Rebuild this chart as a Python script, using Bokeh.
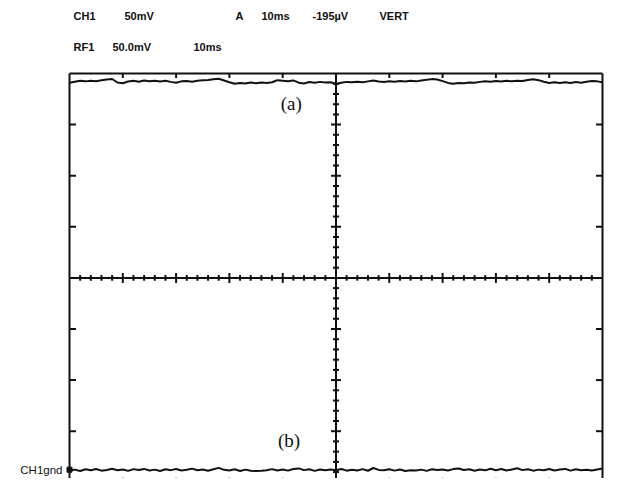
import numpy as np
from bokeh.plotting import figure
from bokeh.models import Range1d
from bokeh.core.properties import value
from bokeh.embed import file_html
from bokeh.resources import INLINE

# ---------------- data (oscilloscope screen, 10 ms/div, 50 mV/div) ----------------
time_ms = list(range(0, 101))  # 0 .. 100 ms, 10 divisions

trace_a_mV = [
    191.0, 192.0, 192.8, 192.3, 193.0, 192.5, 193.4, 194.2, 194.6, 191.2,
    190.4, 192.1, 192.8, 192.0, 193.1, 192.4, 193.0, 192.2, 192.9, 191.8,
    190.9, 192.3, 192.6, 192.0, 192.9, 193.3, 193.6, 194.3, 194.8, 193.2,
    191.5, 189.9, 190.8, 190.2, 191.1, 190.5, 191.2, 190.6, 191.4, 193.5,
    193.0, 192.4, 193.2, 191.0, 190.3, 191.6, 191.0, 191.8, 191.2, 191.5,
    189.8, 190.9, 191.8, 191.4, 192.0, 191.5, 192.3, 193.1, 192.2, 191.7,
    192.4, 191.9, 192.6, 192.1, 192.8, 192.3, 193.2, 193.8, 194.5, 194.2,
    192.5, 190.8, 189.9, 190.6, 190.4, 191.3, 191.0, 191.8, 192.5, 192.0,
    192.7, 192.2, 192.9, 192.4, 193.0, 192.6, 193.6, 194.4, 193.5, 192.0,
    190.8, 191.5, 190.6, 191.4, 190.7, 191.6, 191.0, 192.0, 192.7, 192.3,
    191.4,
]

trace_b_mV = [
    -188.5, -187.6, -188.9, -187.2, -188.3, -187.0, -188.6, -187.9, -186.8, -188.2,
    -187.4, -188.8, -187.1, -188.0, -186.9, -188.4, -187.6, -188.9, -187.3, -188.1,
    -187.0, -188.5, -187.8, -186.6, -188.2, -187.5, -188.7, -187.2, -185.9, -187.8,
    -188.4, -187.3, -188.9, -187.6, -188.6, -188.9, -188.7, -188.3, -187.1, -188.5,
    -187.4, -188.6, -187.0, -186.4, -188.1, -187.2, -188.8, -187.5, -188.3, -187.4,
    -188.2, -187.0, -188.6, -187.7, -188.4, -187.1, -188.7, -186.0, -187.9, -188.3,
    -187.2, -188.6, -187.4, -188.9, -188.2, -188.5, -187.6, -188.8, -187.3, -188.0,
    -187.5, -188.4, -187.1, -186.5, -188.0, -187.3, -188.7, -187.5, -188.3, -186.8,
    -188.2, -187.0, -188.5, -187.4, -186.3, -188.1, -187.2, -188.6, -187.6, -188.3,
    -187.0, -188.4, -187.5, -186.9, -188.6, -187.3, -188.2, -187.8, -188.5, -187.4,
    -186.6,
]

gnd_level_mV = -187.7

header_line1 = ["CH1", "50mV", "A", "10ms", "-195\u00b5V", "VERT"]
header_line2 = ["RF1", "50.0mV", "10ms"]
panel_labels = ["(a)", "(b)"]
panel_label_ms = [41.6, 41.2]
panel_label_mV = [170.3, -159.4]
gnd_label = "CH1gnd"

X_DIVS, Y_DIVS = 10, 8
MS_PER_DIV, MV_PER_DIV = 10, 50

# ---------------- geometry (figure pixels) ----------------
FIG_W, FIG_H = 604, 478
LEFT_PX, RIGHT_PX = 69, 602      # screen frame left / right edges
TOP_PX = 73                      # screen frame top edge
PX_PER_MS = (RIGHT_PX - LEFT_PX) / (X_DIVS * MS_PER_DIV)
PX_PER_MV = 51.1 / MV_PER_DIV

x_end_ms = X_DIVS * MS_PER_DIV
y_top_mV = Y_DIVS / 2 * MV_PER_DIV
x_start = -LEFT_PX / PX_PER_MS
x_stop = x_end_ms + (FIG_W - RIGHT_PX) / PX_PER_MS
y_stop = y_top_mV + TOP_PX / PX_PER_MV
y_start = y_top_mV - (FIG_H - TOP_PX) / PX_PER_MV


def px_x(px):
    return (px - LEFT_PX) / PX_PER_MS


def px_y(py):
    return y_top_mV + (TOP_PX - py) / PX_PER_MV


p = figure(width=FIG_W, height=FIG_H, output_backend="svg", toolbar_location=None,
           x_range=Range1d(x_start, x_stop), y_range=Range1d(y_start, y_stop),
           x_axis_location=None, y_axis_location=None, min_border=0,
           outline_line_color=None, background_fill_color="white",
           border_fill_color="white")
p.grid.visible = False

INK = "#111111"
LW = 2

# frame edges
p.segment(x0=[0, 0, x_end_ms, 0], y0=[y_top_mV, -y_top_mV, -y_top_mV, -y_top_mV],
          x1=[x_end_ms, x_end_ms, x_end_ms, 0], y1=[y_top_mV, -y_top_mV, y_top_mV, y_top_mV],
          line_color=INK, line_width=LW)

# center cross
mid_x = x_end_ms / 2
p.segment(x0=[0, mid_x], y0=[0, -y_top_mV], x1=[x_end_ms, mid_x], y1=[0, y_top_mV],
          line_color=INK, line_width=LW)

# division ticks on edges
major_x = [v for v in np.arange(MS_PER_DIV, x_end_ms, MS_PER_DIV) if v != mid_x]
major_y = [v for v in np.arange(-y_top_mV + MV_PER_DIV, y_top_mV, MV_PER_DIV) if v != 0]
t_edge_x = 4.5 / PX_PER_MV   # vertical tick length (top / bottom edges)
t_edge_y = 6.5 / PX_PER_MS   # horizontal tick length (left / right edges)
p.segment(x0=major_x, y0=[y_top_mV] * len(major_x), x1=major_x,
          y1=[y_top_mV - t_edge_x] * len(major_x), line_color=INK, line_width=LW)
p.segment(x0=major_x, y0=[-y_top_mV] * len(major_x), x1=major_x,
          y1=[-y_top_mV + t_edge_x] * len(major_x), line_color=INK, line_width=LW)
p.segment(x0=[0] * len(major_y), y0=major_y, x1=[t_edge_y] * len(major_y), y1=major_y,
          line_color=INK, line_width=LW)
p.segment(x0=[x_end_ms] * len(major_y), y0=major_y, x1=[x_end_ms - t_edge_y] * len(major_y),
          y1=major_y, line_color=INK, line_width=LW)

# ticks on the center cross (5 minor per division)
minor_step_x = MS_PER_DIV / 5
minor_step_y = MV_PER_DIV / 5
cx_all = np.arange(minor_step_x, x_end_ms, minor_step_x)
cy_all = np.arange(-y_top_mV + minor_step_y, y_top_mV, minor_step_y)


def on_div(v, step):
    r = v % step
    return r < 1e-6 or step - r < 1e-6


cx_major = [v for v in cx_all if on_div(v, MS_PER_DIV) and abs(v - mid_x) > 1e-6]
cx_minor = [v for v in cx_all if not on_div(v, MS_PER_DIV)]
cy_major = [v for v in cy_all if on_div(v, MV_PER_DIV) and abs(v) > 1e-6]
cy_minor = [v for v in cy_all if not on_div(v, MV_PER_DIV)]
hv_min, hv_maj = 2.8 / PX_PER_MV, 5.0 / PX_PER_MV
hh_min, hh_maj = 3.0 / PX_PER_MS, 5.0 / PX_PER_MS
p.segment(x0=cx_minor, y0=[-hv_min] * len(cx_minor), x1=cx_minor, y1=[hv_min] * len(cx_minor),
          line_color=INK, line_width=LW)
p.segment(x0=cx_major, y0=[-hv_maj] * len(cx_major), x1=cx_major, y1=[hv_maj] * len(cx_major),
          line_color=INK, line_width=LW)
p.segment(x0=[mid_x - hh_min] * len(cy_minor), y0=cy_minor, x1=[mid_x + hh_min] * len(cy_minor),
          y1=cy_minor, line_color=INK, line_width=LW)
p.segment(x0=[mid_x - hh_maj] * len(cy_major), y0=cy_major, x1=[mid_x + hh_maj] * len(cy_major),
          y1=cy_major, line_color=INK, line_width=LW)

# traces
p.line(time_ms, trace_a_mV, line_color=INK, line_width=LW)
p.line(time_ms, trace_b_mV, line_color=INK, line_width=LW)

# ground marker
p.scatter([0], [gnd_level_mV], marker="square", size=5, fill_color=INK, line_color=INK)
p.text(x=[px_x(62)], y=[gnd_level_mV], text=[gnd_label], text_font=value("Liberation Sans"),
       text_font_size="11.5px", text_baseline="middle", text_align="right", text_color=INK)

# header readouts
h1_x = [73, 124, 235, 261, 312, 379]
h2_x = [73, 112, 193]
p.text(x=[px_x(v) for v in h1_x], y=[px_y(15)] * len(h1_x), text=header_line1,
       text_font=value("Liberation Sans"), text_font_style="bold", text_font_size="11px",
       text_baseline="middle", text_align="left", text_color=INK)
p.text(x=[px_x(v) for v in h2_x], y=[px_y(46)] * len(h2_x), text=header_line2,
       text_font=value("Liberation Sans"), text_font_style="bold", text_font_size="11px",
       text_baseline="middle", text_align="left", text_color=INK)

# panel labels
p.text(x=panel_label_ms, y=panel_label_mV, text=panel_labels,
       text_font=value("Liberation Serif"), text_font_size="19px",
       text_baseline="middle", text_align="center", text_color=INK)

open("out.html", "w").write(file_html(p, INLINE))
